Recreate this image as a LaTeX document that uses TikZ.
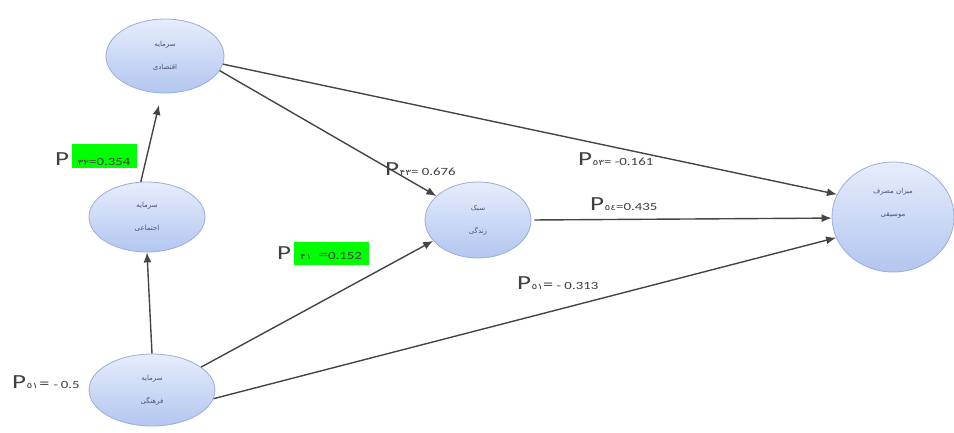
\documentclass[tikz,border=0pt]{standalone}
\usepackage{fontspec}
\usetikzlibrary{shapes.geometric,arrows.meta,backgrounds}
\TeXXeTstate=1
\newfontfamily\fa[Script=Arabic]{DejaVu Sans}
\newfontfamily\cb{Carlito}
\newcommand\fad{\fa\fontsize{8}{8}\selectfont}
\newcommand\wide[1]{\scalebox{1.35}[1]{#1}}
\definecolor{elltop}{HTML}{E6EDFC}
\definecolor{ellbot}{HTML}{B3C6F0}
\definecolor{elldraw}{HTML}{9AAED6}
\definecolor{arrc}{HTML}{454545}
\definecolor{txtc}{HTML}{4A5570}
\definecolor{hl}{HTML}{00FF00}
\begin{document}
\begin{tikzpicture}[x=1pt,y=-1pt,
  var/.style={ellipse, draw=elldraw, line width=0.8pt, top color=elltop, bottom color=ellbot,
    align=center, inner sep=0pt, text=txtc, font=\fa\fontsize{7}{23}\selectfont},
  arr/.style={draw=arrc, line width=1.4pt, -{Latex[length=10pt,width=8pt]}},
  pbig/.style={inner sep=0pt, anchor=base west, text=black!75, font=\cb\fontsize{20}{20}\selectfont},
  pnum/.style={inner sep=0pt, anchor=base west, text=black!75, font=\cb\fontsize{11}{11}\selectfont}
]
\useasboundingbox (0,0) rectangle (954,432);

% variables
\node[var, minimum width=118pt, minimum height=74pt] (eco) at (165,56)
  {\beginR سرمایه\endR\\\beginR اقتصادی\endR};
\node[var, minimum width=116pt, minimum height=70pt] (soc) at (147,217)
  {\beginR سرمایه\endR\\\beginR اجتماعی\endR};
\node[var, minimum width=126pt, minimum height=72pt] (cul) at (152,390)
  {\beginR سرمایه\endR\\\beginR فرهنگی\endR};
\node[var, minimum width=106pt, minimum height=76pt] (life) at (478,220)
  {\beginR سبک\endR\\\beginR زندگی\endR};
\node[var, minimum width=122pt, minimum height=110pt] (mus) at (893,217)
  {\beginR میزان مصرف\endR\\\beginR موسیقی\endR\\[6pt]};

% connectors
\draw[arr, shorten >=12pt] (soc.100) -- (eco.265);
\draw[arr] (cul.north) -- (soc.south);
\draw[arr] (cul.25) -- (life.205);
\draw[arr] (cul.-8) -- (mus.200);
\draw[arr] (eco.-15) -- (life.150);
\draw[arr] (eco.-8) -- (mus.158);
\draw[arr, shorten <=3pt] (life.east) -- (mus.181);

% path labels
\node[pbig] (p32) at (55,165) {\wide{P}};
\node[pnum, fill=hl, text height=21pt, text depth=3pt, inner xsep=1pt, minimum width=65pt] (p32n) at ([xshift=2pt]p32.base east)
  {\wide{{\fad ۳۲}=0.354}};
\node[pbig] (p41) at (277,259) {\wide{P}};
\node[pnum, fill=hl, text height=17pt, text depth=6pt, inner xsep=2pt, minimum width=75pt] (p41n) at ([xshift=2pt]p41.base east)
  {\wide{{\fad ۴۱}\hspace{5pt}{\fontsize{14}{14}\selectfont=}0.152}};
\node[pbig] (p43) at (385,175) {\wide{P}};
\node[pnum] (p43n) at (p43.base east) {\wide{{\fad ۴۳}= 0.676}};
\node[pbig] (p53) at (578,165) {\wide{P}};
\node[pnum] (p53n) at (p53.base east) {\wide{{\fad ٥٣}= -0.161}};
\node[pbig] (p54) at (590,210) {\wide{P}};
\node[pnum] (p54n) at (p54.base east) {\wide{{\fad ٥٤}=0.435}};
\node[pbig] (p51) at (517,289) {\wide{P}};
\node[pnum] (p51n) at (p51.base east) {\wide{{\fad ٥١}{\fontsize{15}{15}\selectfont=} - 0.313}};
\begin{pgfonlayer}{background}
\fill[white] (0,0) rectangle (954,432);
\node[pbig] (p21) at (12,388) {\wide{P}};
\node[pnum] (p21n) at (p21.base east) {\wide{{\fad ٥١}\hspace{1pt}{\fontsize{15}{15}\selectfont=}\hspace{3pt}-\hspace{2pt}0.5}};
\end{pgfonlayer}
\end{tikzpicture}
\end{document}
